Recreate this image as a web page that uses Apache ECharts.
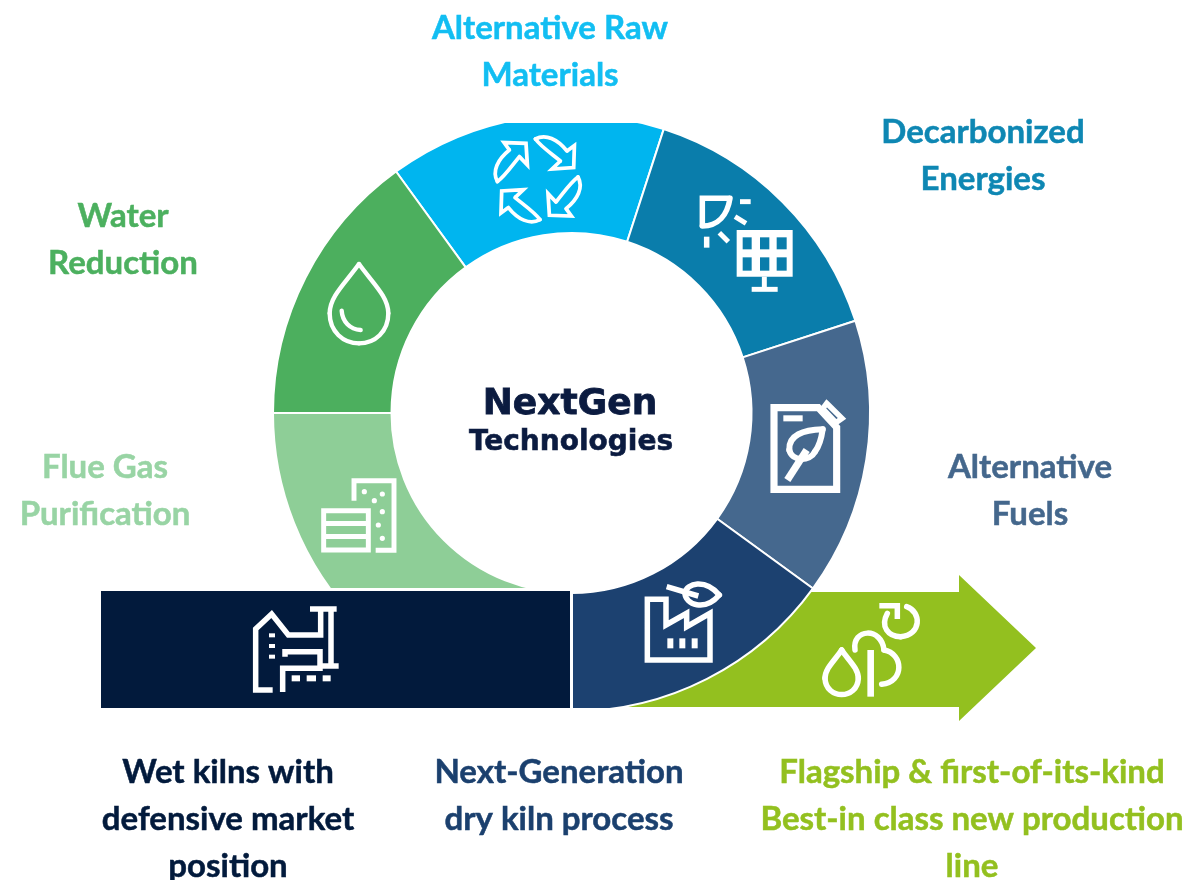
<!DOCTYPE html>
<html>
<head>
<meta charset="utf-8">
<title>NextGen Technologies</title>
<script src="https://cdn.jsdelivr.net/npm/echarts@6/dist/echarts.min.js"></script>
<style>
  html, body { margin: 0; padding: 0; background: #fff; }
  #main { width: 1189px; height: 880px; }
</style>
</head>
<body>
<div id="main"></div>
<script>
// ring segments, clockwise from the top-left edge of the light blue one (degrees of arc)
const segmentNames = ['Alternative Raw Materials', 'Decarbonized Energies', 'Alternative Fuels', 'Next-Generation dry kiln process', 'Flue Gas Purification', 'Water Reduction'];
const segmentValues = [54, 54, 54, 54, 90, 54];
const segmentColors = ['#00B5EF', '#0A7DAB', '#45688E', '#1C4170', '#8ECE97', '#4CAF5E'];

const labelTexts = ['Alternative Raw\nMaterials', 'Decarbonized\nEnergies', 'Water\nReduction', 'Flue Gas\nPurification', 'Alternative\nFuels',
    'Wet kilns with\ndefensive market\nposition', 'Next-Generation\ndry kiln process', 'Flagship & first-of-its-kind\nBest-in class new production\nline'];
const labelColors = ['#12BEF2', '#0E87B3', '#4CB05F', '#98D4A4', '#44678C', '#021A3C', '#1B406E', '#93C01F'];
const labelCenters = [[550, 5], [983, 109], [123, 193], [105, 444], [1030, 444], [228, 749], [559, 749], [972, 749]];

const NAVY = '#021A3C', LIME = '#93C01F';
const LINE = '#fff';

let myChart = echarts.init(document.getElementById('main'), null, { renderer: 'canvas' });

// icon coordinates were measured on 3x crops, z() brings them back to the page
function z(ox, oy) {
    return (p) => [ox + p[0] / 3, oy + p[1] / 3];
}
function poly(map, pts, w, closed) {
    return { type: closed ? 'polygon' : 'polyline', z: 20, silent: true, shape: { points: pts.map(map) },
        style: { stroke: LINE, lineWidth: w * 1.1, fill: null, lineJoin: 'miter', lineCap: 'butt' } };
}
function curve(map, a, c1, c2, b, w) {
    let p0 = map(a), p1 = map(c1), p2 = map(c2), p3 = map(b);
    return { type: 'bezierCurve', z: 20, silent: true,
        shape: { x1: p0[0], y1: p0[1], cpx1: p1[0], cpy1: p1[1], cpx2: p2[0], cpy2: p2[1], x2: p3[0], y2: p3[1] },
        style: { stroke: LINE, lineWidth: w * 1.1, fill: null, lineCap: 'round' } };
}
function box(map, a, b, fill) {
    let p = map(a), q = map(b);
    return { type: 'rect', z: 21, silent: true, shape: { x: p[0], y: p[1], width: q[0] - p[0], height: q[1] - p[1] }, style: { fill: fill || LINE } };
}
function dot(map, c, r) {
    let p = map(c);
    return { type: 'circle', z: 21, silent: true, shape: { cx: p[0], cy: p[1], r: r }, style: { fill: LINE } };
}

function recycleIcon() {
    let out = [];
    for (let k = 0; k < 4; k++) {
        let id = (p) => p;
        out.push({
            type: 'group', x: 537.7, y: 179.3, rotation: -k * Math.PI / 2,
            children: [
                poly(id, [[-28.3, -29.3], [-33.7, -36.7], [-11.7, -36], [-10.3, -14.3], [-18.3, -22.7]], 3.4),
                curve(id, [-40.3, 2.3], [-46, -8], [-40, -20], [-28.3, -29.3], 3.4),
                curve(id, [-40.3, 2.3], [-33, -3], [-27, -12], [-18.3, -22.7], 3.4)
            ]
        });
    }
    return out;
}

function solarIcon() {
    const m = z(640, 130), cell = segmentColors[1];
    let out = [
        poly(m, [[270, 205], [187, 205], [187, 290]], 5),
        curve(m, [270, 205], [262, 255], [235, 288], [187, 288], 5),
        poly(m, [[300, 215], [332, 215]], 4.5),
        poly(m, [[285, 260], [318, 280]], 4.5),
        poly(m, [[238, 308], [265, 335]], 4.5),
        poly(m, [[200, 320], [200, 353]], 5),
        box(m, [290, 300], [458, 440]),
        poly(m, [[373, 440], [373, 478]], 4.5),
        poly(m, [[335, 478], [413, 478]], 4.5)
    ];
    [[308, 335], [360, 388], [410, 440]].forEach(xs => {
        [[322, 358], [382, 422]].forEach(ys => {
            out.push(Object.assign(box(m, [xs[0], ys[0]], [xs[1], ys[1]], cell), { z: 22 }));
        });
    });
    return out;
}

function fuelIcon() {
    const m = z(700, 340);
    return [
        poly(m, [[222, 203], [355, 203], [410, 262], [410, 448], [222, 448]], 6.5, true),
        poly(m, [[380, 190], [426, 235], [408, 248], [368, 206]], 5, true),
        poly(m, [[250, 235], [308, 235]], 5.5),
        curve(m, [368, 268], [310, 270], [265, 285], [268, 330], 5.5),
        curve(m, [268, 330], [275, 365], [330, 365], [345, 335], 5.5),
        curve(m, [345, 335], [360, 315], [365, 290], [368, 268], 5.5),
        poly(m, [[320, 330], [262, 420]], 6.5)
    ];
}

function factoryIcon() {
    const m = z(630, 570);
    return [
        poly(m, [[52, 88], [108, 88], [108, 165], [170, 130], [170, 170], [240, 130], [240, 270], [52, 270]], 5, true),
        box(m, [112, 205], [130, 235]),
        box(m, [148, 205], [166, 235]),
        box(m, [185, 205], [203, 235]),
        poly(m, [[110, 50], [205, 78]], 5),
        curve(m, [165, 68], [170, 40], [225, 25], [268, 75], 5),
        curve(m, [165, 68], [165, 105], [225, 125], [268, 75], 5)
    ];
}

function sproutIcon() {
    const m = z(810, 595);
    return [
        curve(m, [95, 165], [75, 195], [45, 220], [45, 250], 5),
        curve(m, [45, 250], [48, 315], [142, 315], [145, 250], 5),
        curve(m, [145, 250], [145, 220], [115, 195], [95, 165], 5),
        poly(m, [[182, 165], [182, 305]], 6),
        curve(m, [135, 165], [125, 100], [215, 95], [222, 165], 5),
        curve(m, [222, 165], [280, 175], [285, 260], [215, 268], 5),
        poly(m, [[208, 32], [262, 32], [262, 72]], 5),
        curve(m, [232, 55], [210, 95], [235, 125], [272, 125], 5),
        curve(m, [272, 125], [335, 120], [335, 50], [290, 35], 5)
    ];
}

function kilnIcon() {
    const m = z(90, 540);
    return [
        poly(m, [[548, 450], [497, 450], [497, 267], [545, 222], [595, 285], [692, 285], [692, 207]], 5),
        poly(m, [[660, 207], [740, 207]], 5),
        poly(m, [[723, 207], [723, 378]], 5),
        poly(m, [[692, 378], [746, 378]], 5),
        poly(m, [[585, 350], [585, 335], [690, 335], [690, 385], [578, 385], [578, 456]], 5),
        box(m, [537, 280], [555, 292]),
        box(m, [537, 312], [555, 324]),
        box(m, [537, 344], [555, 356]),
        box(m, [605, 406], [630, 424]),
        box(m, [650, 406], [678, 424]),
        box(m, [698, 406], [722, 424])
    ];
}

function dropIcon() {
    const m = z(265, 170);
    return [
        curve(m, [282, 282], [240, 340], [194, 380], [194, 430], 4),
        curve(m, [194, 430], [194, 485], [235, 520], [282, 520], 4),
        curve(m, [282, 520], [330, 520], [370, 485], [370, 430], 4),
        curve(m, [370, 430], [370, 380], [324, 340], [282, 282], 4),
        curve(m, [230, 422], [232, 455], [255, 478], [287, 480], 4)
    ];
}

function flueIcon() {
    const m = z(265, 170);
    let out = [
        poly(m, [[176, 1022], [310, 1022], [310, 1140], [176, 1140]], 4.5, true),
        box(m, [172, 1053], [312, 1068]),
        box(m, [172, 1092], [312, 1107]),
        poly(m, [[267, 992], [267, 932], [387, 932], [387, 1141], [332, 1141]], 4.5)
    ];
    [[298, 965], [352, 972], [328, 992], [352, 1025], [340, 1065], [352, 1105]].forEach(c => out.push(dot(m, c, 2.6)));
    return out;
}

// text blocks around the ring
let labels = labelTexts.map((t, i) => ({
    type: 'text', z: 30, silent: true, x: labelCenters[i][0], y: labelCenters[i][1],
    style: { text: t, fill: labelColors[i], stroke: labelColors[i], lineWidth: 0.5, font: 'bold 33px Lato', lineHeight: 47, align: 'center', verticalAlign: 'top' }
}));

let graphicElements = [
    // arrow sits behind the ring
    { type: 'polygon', z: 1, silent: true, shape: { points: [[572, 592], [959, 592], [959, 575], [1036, 648], [959, 721], [959, 707], [572, 707]] }, style: { fill: LIME } },
    // ring is cut flat at top and by the bar
    { type: 'rect', z: 10, silent: true, shape: { x: 380, y: 95, width: 340, height: 28 }, style: { fill: '#fff' } },
    { type: 'rect', z: 10, silent: true, shape: { x: 300, y: 588, width: 272, height: 6 }, style: { fill: '#fff' } },
    { type: 'rect', z: 10, silent: true, shape: { x: 500, y: 708, width: 120, height: 6 }, style: { fill: '#fff' } },
    { type: 'rect', z: 11, silent: true, shape: { x: 101, y: 591, width: 469, height: 117 }, style: { fill: NAVY } },
    { type: 'rect', z: 11, silent: true, shape: { x: 570, y: 588, width: 3, height: 120 }, style: { fill: '#fff' } },
    ...recycleIcon(), ...solarIcon(), ...fuelIcon(), ...factoryIcon(), ...sproutIcon(), ...kilnIcon(), ...dropIcon(), ...flueIcon(),
    ...labels,
    { type: 'text', z: 30, silent: true, x: 570, y: 405, style: { text: 'NextGen', fill: '#0B1B40', stroke: '#0B1B40', lineWidth: 0.8, font: 'bold 36px "DejaVu Sans"', align: 'center', verticalAlign: 'middle' } },
    { type: 'text', z: 30, silent: true, x: 571, y: 443, style: { text: 'Technologies', fill: '#0B1B40', stroke: '#0B1B40', lineWidth: 0.6, font: 'bold 28px "DejaVu Sans"', align: 'center', verticalAlign: 'middle' } }
];

let option = {
    animation: false,
    backgroundColor: '#fff',
    series: [
        {
            type: 'pie',
            z: 2,
            silent: true,
            center: [571.5, 413],
            radius: [180, 298.5],
            startAngle: 126,
            clockwise: true,
            label: { show: false },
            labelLine: { show: false },
            itemStyle: { borderColor: '#fff', borderWidth: 2 },
            data: segmentValues.map((v, i) => ({ name: segmentNames[i], value: v, itemStyle: { color: segmentColors[i] } }))
        }
    ],
    graphic: { elements: graphicElements }
};
myChart.setOption(option, true);
</script>
</body>
</html>
